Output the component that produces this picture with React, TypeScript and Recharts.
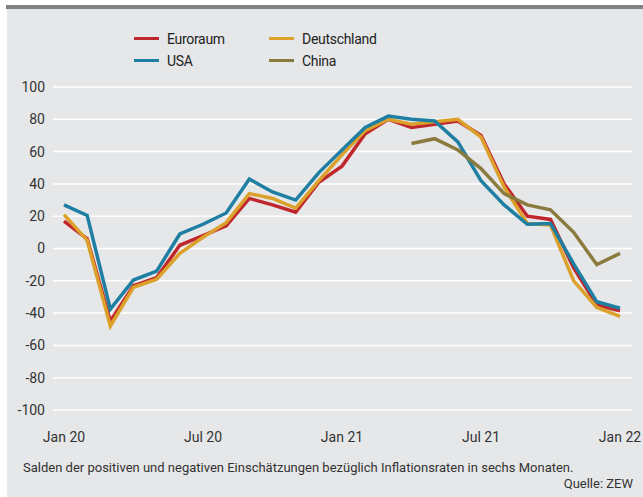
import { LineChart, Line, XAxis, YAxis, CartesianGrid } from 'recharts'

const months = [
  'Jan 20', 'Feb 20', 'Mär 20', 'Apr 20', 'Mai 20', 'Jun 20', 'Jul 20', 'Aug 20', 'Sep 20', 'Okt 20', 'Nov 20', 'Dez 20',
  'Jan 21', 'Feb 21', 'Mär 21', 'Apr 21', 'Mai 21', 'Jun 21', 'Jul 21', 'Aug 21', 'Sep 21', 'Okt 21', 'Nov 21', 'Dez 21',
  'Jan 22',
]

const euroraum = [17, 6, -45, -23, -18, 2, 8, 14, 31, 27, 22.5, 41, 51, 71, 80, 75, 77, 79, 70, 40, 20, 18, -12, -35, -38.5]
const deutschland = [21, 5, -48, -24, -19, -3, 7, 16, 34, 31, 25, 42, 58, 73, 80, 77, 78.5, 80, 69, 38, 15.5, 14.5, -20, -36.5, -42]
const usa = [27, 20.5, -37.5, -19.5, -14, 9, 15, 22, 43, 35, 30, 47, 61, 75, 82, 80, 79, 66, 42, 27, 15, 15.5, -9.5, -33, -37]
const china = [null, null, null, null, null, null, null, null, null, null, null, null, null, null, null, 65, 68, 61, 49.5, 34, 27, 24, 10, -10, -3]

const yTicks = [-100, -80, -60, -40, -20, 0, 20, 40, 60, 80, 100]

const series = [
  { key: 'Euroraum', color: '#c0272d' },
  { key: 'Deutschland', color: '#dba12b' },
  { key: 'USA', color: '#1f7fa2' },
  { key: 'China', color: '#8b7a3d' },
]

const rows = months.map((m, i) => ({
  month: m,
  Euroraum: euroraum[i],
  Deutschland: deutschland[i],
  USA: usa[i],
  China: china[i],
}))

const font = 'Roboto, sans-serif'

function LegendBox() {
  return (
    <div
      style={{
        position: 'absolute',
        left: 134,
        top: 29,
        display: 'grid',
        gridTemplateColumns: '135px 135px',
        rowGap: 3,
        fontFamily: font,
        fontSize: 14,
        letterSpacing: -0.3,
        color: '#222',
      }}
    >
      {series.map((s) => (
        <div key={s.key} style={{ display: 'flex', alignItems: 'center', height: 19 }}>
          <span style={{ display: 'inline-block', width: 25, height: 3, background: s.color, marginRight: 8 }} />
          {s.key}
        </div>
      ))}
    </div>
  )
}

export default function App() {
  return (
    <div style={{ position: 'absolute', left: 0, top: 0, width: 643, height: 497, background: '#fff' }}>
      <div style={{ position: 'absolute', left: 6, top: 5, width: 637, height: 4, background: '#7f8183' }} />
      <div style={{ position: 'absolute', left: 7, top: 9, width: 636, height: 488, background: '#e6e7e9' }} />
      <LegendBox />
      <div style={{ position: 'absolute', left: 0, top: 0 }}>
        <LineChart width={643} height={497} data={rows} margin={{ top: 87, right: 11, bottom: 57, left: 0 }}>
          <CartesianGrid vertical={false} stroke="#ffffff" strokeWidth={1.5} />
          <XAxis
            dataKey="month"
            interval={5}
            axisLine={false}
            tickLine={false}
            height={30}
            padding={{ left: 11, right: 12 }}
            tickMargin={16}
            tick={{ fill: '#333', fontSize: 14, fontFamily: font }}
          />
          <YAxis
            domain={[-100, 100]}
            ticks={yTicks}
            axisLine={false}
            tickLine={false}
            width={53}
            tick={{ fill: '#333', fontSize: 14, fontFamily: font }}
          />
          {series.map((s) => (
            <Line
              key={s.key}
              type="linear"
              dataKey={s.key}
              stroke={s.color}
              strokeWidth={3.5}
              dot={false}
              activeDot={false}
              connectNulls={false}
              isAnimationActive={false}
            />
          ))}
        </LineChart>
      </div>
      <div style={{ position: 'absolute', left: 23, top: 460, fontFamily: font, fontSize: 13, color: '#333', whiteSpace: 'nowrap' }}>
        Salden der positiven und negativen Einschätzungen bezüglich Inflationsraten in sechs Monaten.
      </div>
      <div style={{ position: 'absolute', right: 10, top: 476, fontFamily: font, fontSize: 13, color: '#333' }}>
        Quelle: ZEW
      </div>
    </div>
  )
}
